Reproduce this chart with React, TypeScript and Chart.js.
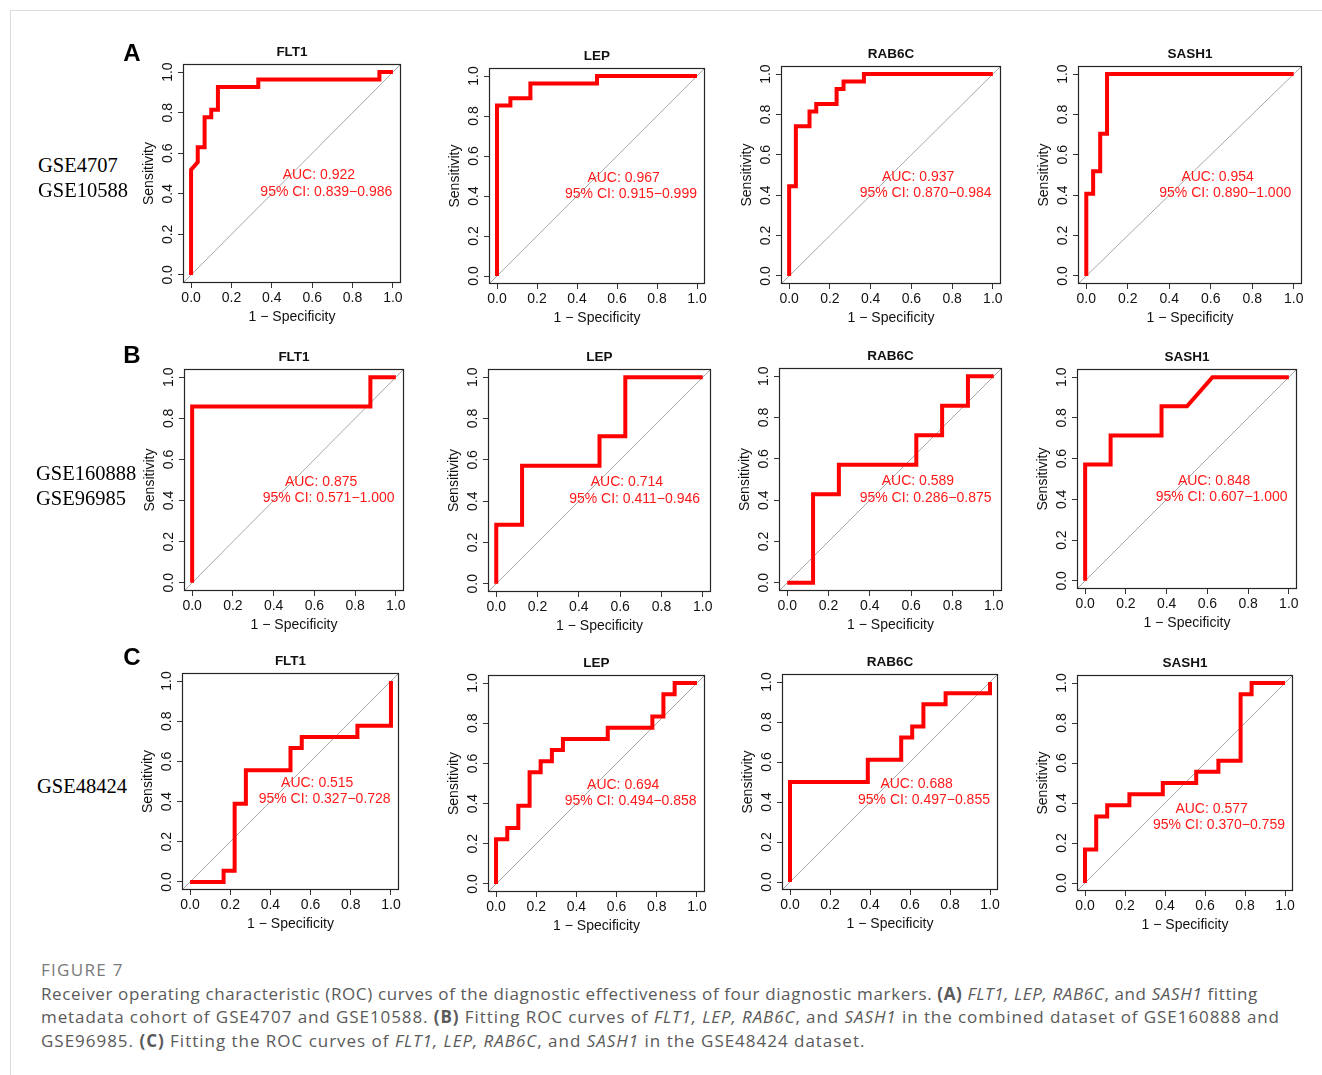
import React, { useEffect, useRef } from 'react';
import { Chart, registerables } from 'chart.js';

Chart.register(...registerables);

const FONT = '"Liberation Sans", Arial, Helvetica, sans-serif';

// ---------- axis ticks ----------
const tickValues = [0, 0.2, 0.4, 0.6, 0.8, 1.0];
const tickLabels = ['0.0', '0.2', '0.4', '0.6', '0.8', '1.0'];
const AXIS_MIN = -0.04;
const AXIS_MAX = 1.04;

// ---------- labels ----------
const genes = ['FLT1', 'LEP', 'RAB6C', 'SASH1'];
const rowLetters = ['A', 'B', 'C'];
const cohortLabels = [['GSE4707', 'GSE10588'], ['GSE160888', 'GSE96985'], ['GSE48424']];

const aucRowA = ['0.922', '0.967', '0.937', '0.954'];
const aucRowB = ['0.875', '0.714', '0.589', '0.848'];
const aucRowC = ['0.515', '0.694', '0.688', '0.577'];
const ciRowA = ['0.839−0.986', '0.915−0.999', '0.870−0.984', '0.890−1.000'];
const ciRowB = ['0.571−1.000', '0.411−0.946', '0.286−0.875', '0.607−1.000'];
const ciRowC = ['0.327−0.728', '0.494−0.858', '0.497−0.855', '0.370−0.759'];

// ---------- ROC curves (1 - specificity, sensitivity) ----------
const A_FLT1_fpr = [0, 0, 0.033, 0.033, 0.067, 0.067, 0.1, 0.1, 0.133, 0.133, 0.333, 0.333, 0.933, 0.933, 1];
const A_FLT1_tpr = [0, 0.519, 0.556, 0.63, 0.63, 0.778, 0.778, 0.815, 0.815, 0.926, 0.926, 0.963, 0.963, 1, 1];
const A_LEP_fpr = [0, 0, 0.067, 0.067, 0.167, 0.167, 0.5, 0.5, 1];
const A_LEP_tpr = [0, 0.852, 0.852, 0.889, 0.889, 0.963, 0.963, 1, 1];
const A_RAB6C_fpr = [0, 0, 0.033, 0.033, 0.1, 0.1, 0.133, 0.133, 0.233, 0.233, 0.267, 0.267, 0.367, 0.367, 1];
const A_RAB6C_tpr = [0, 0.444, 0.444, 0.741, 0.741, 0.815, 0.815, 0.852, 0.852, 0.926, 0.926, 0.963, 0.963, 1, 1];
const A_SASH1_fpr = [0, 0, 0.033, 0.033, 0.067, 0.067, 0.1, 0.1, 1];
const A_SASH1_tpr = [0, 0.407, 0.407, 0.519, 0.519, 0.704, 0.704, 1, 1];

const B_FLT1_fpr = [0, 0, 0.875, 0.875, 1];
const B_FLT1_tpr = [0, 0.857, 0.857, 1, 1];
const B_LEP_fpr = [0, 0, 0.125, 0.125, 0.5, 0.5, 0.625, 0.625, 1];
const B_LEP_tpr = [0, 0.286, 0.286, 0.571, 0.571, 0.714, 0.714, 1, 1];
const B_RAB6C_fpr = [0, 0.125, 0.125, 0.25, 0.25, 0.625, 0.625, 0.75, 0.75, 0.875, 0.875, 1];
const B_RAB6C_tpr = [0, 0, 0.429, 0.429, 0.571, 0.571, 0.714, 0.714, 0.857, 0.857, 1, 1];
const B_SASH1_fpr = [0, 0, 0.125, 0.125, 0.375, 0.375, 0.5, 0.625, 1];
const B_SASH1_tpr = [0, 0.571, 0.571, 0.714, 0.714, 0.857, 0.857, 1, 1];

const C_FLT1_fpr = [0, 0.167, 0.167, 0.222, 0.222, 0.278, 0.278, 0.5, 0.5, 0.556, 0.556, 0.833, 0.833, 1, 1];
const C_FLT1_tpr = [0, 0, 0.056, 0.056, 0.389, 0.389, 0.556, 0.556, 0.667, 0.667, 0.722, 0.722, 0.778, 0.778, 1];
const C_LEP_fpr = [0, 0, 0.056, 0.056, 0.111, 0.111, 0.167, 0.167, 0.222, 0.222, 0.278, 0.278, 0.333, 0.333, 0.556, 0.556, 0.778, 0.778, 0.833, 0.833, 0.889, 0.889, 1];
const C_LEP_tpr = [0, 0.222, 0.222, 0.278, 0.278, 0.389, 0.389, 0.556, 0.556, 0.611, 0.611, 0.667, 0.667, 0.722, 0.722, 0.778, 0.778, 0.833, 0.833, 0.944, 0.944, 1, 1];
const C_RAB6C_fpr = [0, 0, 0.389, 0.389, 0.556, 0.556, 0.611, 0.611, 0.667, 0.667, 0.778, 0.778, 1, 1];
const C_RAB6C_tpr = [0, 0.5, 0.5, 0.611, 0.611, 0.722, 0.722, 0.778, 0.778, 0.889, 0.889, 0.944, 0.944, 1];
const C_SASH1_fpr = [0, 0, 0.056, 0.056, 0.111, 0.111, 0.222, 0.222, 0.389, 0.389, 0.556, 0.556, 0.667, 0.667, 0.778, 0.778, 0.833, 0.833, 1];
const C_SASH1_tpr = [0, 0.167, 0.167, 0.333, 0.333, 0.389, 0.389, 0.444, 0.444, 0.5, 0.5, 0.556, 0.556, 0.611, 0.611, 0.944, 0.944, 1, 1];

const curves = [
  [[A_FLT1_fpr, A_FLT1_tpr], [A_LEP_fpr, A_LEP_tpr], [A_RAB6C_fpr, A_RAB6C_tpr], [A_SASH1_fpr, A_SASH1_tpr]],
  [[B_FLT1_fpr, B_FLT1_tpr], [B_LEP_fpr, B_LEP_tpr], [B_RAB6C_fpr, B_RAB6C_tpr], [B_SASH1_fpr, B_SASH1_tpr]],
  [[C_FLT1_fpr, C_FLT1_tpr], [C_LEP_fpr, C_LEP_tpr], [C_RAB6C_fpr, C_RAB6C_tpr], [C_SASH1_fpr, C_SASH1_tpr]],
];
const aucRows = [aucRowA, aucRowB, aucRowC];
const ciRows = [ciRowA, ciRowB, ciRowC];

// ---------- layout (page px where x=0, x=1, y=1, y=0 fall) ----------
const panelFrames = [
  [[190.7, 393.3, 72.3, 275], [496.7, 696.7, 75.7, 276], [789.3, 992.7, 73.7, 276], [1086.7, 1293.3, 73.7, 276]],
  [[192.3, 396, 377.3, 582.3], [496.7, 702.3, 377.3, 583.3], [787.3, 993.3, 376, 582.7], [1085, 1289, 377, 581]],
  [[190, 390.7, 681.3, 882.3], [496, 696.7, 682.7, 884], [790, 990, 681.7, 882.3], [1085, 1285, 682.7, 883.3]],
];
// text anchors in data coordinates: [aucX, aucY, ciX, ciY]
const defaultTextAnchor = [0.633, 0.49, 0.67, 0.41];
const lowTextAnchor = [0.633, 0.37, 0.67, 0.29];

const Y_W = 42;
const X_H = 42;
const TITLE_H = 22;
const RIGHT_PAD = 14;

const rocPlugin = {
  id: 'rocText',
  afterDraw(chart: any, _args: any, opts: any) {
    const { ctx, chartArea: a, scales } = chart;
    ctx.save();
    ctx.strokeStyle = '#262626';
    ctx.lineWidth = 1.2;
    ctx.strokeRect(a.left + 0.5, a.top + 0.5, a.right - a.left - 1, a.bottom - a.top - 1);
    ctx.fillStyle = '#ff1a1a';
    ctx.font = `14px ${FONT}`;
    ctx.textAlign = 'center';
    ctx.textBaseline = 'middle';
    const p = opts.pos;
    ctx.fillText(`AUC: ${opts.auc}`, scales.x.getPixelForValue(p[0]), scales.y.getPixelForValue(p[1]));
    ctx.fillText(`95% CI: ${opts.ci}`, scales.x.getPixelForValue(p[2]), scales.y.getPixelForValue(p[3]));
    ctx.restore();
  },
};

type PanelProps = { frame: number[]; gene: string; fpr: number[]; tpr: number[]; auc: string; ci: string; pos: number[] };

function RocPanel({ frame, gene, fpr, tpr, auc, ci, pos }: PanelProps) {
  const ref = useRef<HTMLCanvasElement | null>(null);
  const [x0, x1, y1, y0] = frame;
  const ux = x1 - x0;
  const uy = y0 - y1;
  const boxL = Math.round(x0 + AXIS_MIN * ux);
  const boxR = Math.round(x0 + AXIS_MAX * ux);
  const boxT = Math.round(y0 - AXIS_MAX * uy);
  const boxB = Math.round(y0 - AXIS_MIN * uy);
  const left = boxL - Y_W;
  const top = boxT - TITLE_H;
  const width = boxR - boxL + Y_W + RIGHT_PAD;
  const height = boxB - boxT + TITLE_H + X_H;

  useEffect(() => {
    const points = fpr.map((x, i) => ({ x, y: tpr[i] }));
    const tickFont = { family: FONT, size: 14, lineHeight: '16px' };
    const chart = new Chart(ref.current as HTMLCanvasElement, {
      type: 'scatter',
      data: {
        datasets: [
          {
            data: points,
            showLine: true,
            borderColor: '#ff0000',
            borderWidth: 4,
            pointRadius: 0,
            borderJoinStyle: 'miter',
            borderCapStyle: 'butt',
            tension: 0,
          },
          {
            data: [{ x: AXIS_MIN, y: AXIS_MIN }, { x: AXIS_MAX, y: AXIS_MAX }],
            showLine: true,
            borderColor: '#a8a8a8',
            borderWidth: 1,
            pointRadius: 0,
          },
        ],
      },
      options: {
        animation: false,
        responsive: false,
        devicePixelRatio: 1,
        layout: { padding: { left: 0, top: 0, right: RIGHT_PAD, bottom: 0 } },
        plugins: {
          legend: { display: false },
          tooltip: { enabled: false },
          title: {
            display: true,
            text: gene,
            fullSize: false,
            color: '#111',
            font: { family: FONT, size: 13.5, weight: 'bold', lineHeight: '16px' },
            padding: { top: 2, bottom: 4 },
          },
          rocText: { auc, ci, pos },
        } as any,
        scales: {
          x: {
            type: 'linear',
            min: AXIS_MIN,
            max: AXIS_MAX,
            afterBuildTicks: (s: any) => { s.ticks = tickValues.map((v) => ({ value: v })); },
            afterFit: (s: any) => { s.height = X_H; },
            ticks: {
              autoSkip: false,
              maxRotation: 0,
              minRotation: 0,
              padding: 2.5,
              color: '#111',
              font: tickFont,
              callback: (_v: any, i: number) => tickLabels[i],
            },
            grid: { display: true, drawOnChartArea: false, drawTicks: true, tickLength: 5, color: '#333', lineWidth: 1 },
            border: { display: false },
            title: { display: true, text: '1 − Specificity', color: '#111', font: tickFont, padding: 0 },
          },
          y: {
            type: 'linear',
            min: AXIS_MIN,
            max: AXIS_MAX,
            afterBuildTicks: (s: any) => { s.ticks = tickValues.map((v) => ({ value: v })); },
            afterFit: (s: any) => { s.width = Y_W; },
            ticks: {
              autoSkip: false,
              minRotation: 90,
              maxRotation: 90,
              crossAlign: 'center',
              padding: 0,
              color: '#111',
              font: tickFont,
              callback: (_v: any, i: number) => tickLabels[i],
            },
            grid: { display: true, drawOnChartArea: false, drawTicks: true, tickLength: 5, color: '#333', lineWidth: 1 },
            border: { display: false },
            title: { display: true, text: 'Sensitivity', color: '#111', font: tickFont, padding: 0 },
          },
        },
      } as any,
      plugins: [rocPlugin as any],
    });
    return () => chart.destroy();
  }, []);

  return (
    <canvas
      ref={ref}
      width={width}
      height={height}
      style={{ position: 'absolute', left, top, width, height }}
    />
  );
}

const letterCenters = [53, 355, 657];
const cohortTops = [[165, 190], [473, 498], [786]];
const cohortLefts = [38, 36, 37];

export default function App() {
  const panels: React.ReactNode[] = [];
  panelFrames.forEach((row, r) => {
    row.forEach((frame, c) => {
      const [fpr, tpr] = curves[r][c];
      const pos = r === 2 && c === 3 ? lowTextAnchor : defaultTextAnchor;
      panels.push(
        <RocPanel
          key={`${r}-${c}`}
          frame={frame}
          gene={genes[c]}
          fpr={fpr}
          tpr={tpr}
          auc={aucRows[r][c]}
          ci={ciRows[r][c]}
          pos={pos}
        />
      );
    });
  });

  const capStyle: React.CSSProperties = {
    position: 'absolute',
    left: 41,
    whiteSpace: 'nowrap',
    fontFamily: '"Open Sans", "Noto Sans", sans-serif',
    fontSize: 17,
    letterSpacing: 0.6,
    lineHeight: '24px',
    color: '#5a5a5a',
  };
  const it = (s: string) => <i>{s}</i>;

  return (
    <div style={{ position: 'absolute', left: 0, top: 0, width: 1322, height: 1075, overflow: 'hidden', background: '#fff' }}>
      <div style={{ position: 'absolute', left: 10, top: 10, width: 1400, height: 1200, border: '1px solid #dcdcdc' }} />
      {panels}
      {rowLetters.map((l, r) => (
        <div
          key={l}
          style={{
            position: 'absolute', left: 132, top: letterCenters[r], transform: 'translate(-50%, -50%)',
            fontFamily: FONT, fontWeight: 'bold', fontSize: 24, lineHeight: 1, color: '#000',
          }}
        >
          {l}
        </div>
      ))}
      {cohortLabels.map((lines, r) =>
        lines.map((t, k) => (
          <div
            key={t}
            style={{
              position: 'absolute', left: cohortLefts[r], top: cohortTops[r][k] - 12,
              fontFamily: '"Liberation Serif", "Times New Roman", serif', fontSize: 20.5, lineHeight: '24px', color: '#000', whiteSpace: 'nowrap',
            }}
          >
            {t}
          </div>
        ))
      )}
      <div style={{ ...capStyle, top: 958, color: '#7a7a7a', letterSpacing: 1.3 }}>FIGURE 7</div>
      <div style={{ ...capStyle, top: 982, letterSpacing: 0.63 }}>
        Receiver operating characteristic (ROC) curves of the diagnostic effectiveness of four diagnostic markers. <b>(A)</b> {it('FLT1, LEP, RAB6C')}, and {it('SASH1')} fitting
      </div>
      <div style={{ ...capStyle, top: 1005, letterSpacing: 0.92 }}>
        metadata cohort of GSE4707 and GSE10588. <b>(B)</b> Fitting ROC curves of {it('FLT1, LEP, RAB6C')}, and {it('SASH1')} in the combined dataset of GSE160888 and
      </div>
      <div style={{ ...capStyle, top: 1029, letterSpacing: 0.98 }}>
        GSE96985. <b>(C)</b> Fitting the ROC curves of {it('FLT1, LEP, RAB6C')}, and {it('SASH1')} in the GSE48424 dataset.
      </div>
    </div>
  );
}
